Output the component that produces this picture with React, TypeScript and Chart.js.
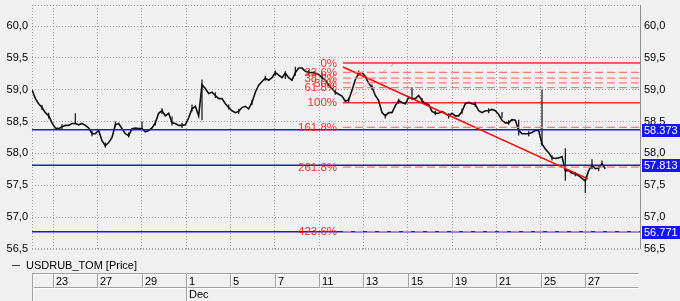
import React, { useEffect, useRef } from "react";
import { Chart, registerables } from "chart.js";
Chart.register(...registerables);

const SERIES_NAME = "USDRUB_TOM [Price]";

// closing prices, one value per bar
const CLOSE: number[] = [
  59.00, 58.86, 58.78, 58.72, 58.64, 58.59, 58.48, 58.40, 58.39, 58.42,
  58.44, 58.44, 58.47, 58.47, 58.45, 58.47, 58.44, 58.40, 58.31, 58.31,
  58.36, 58.20, 58.12, 58.17, 58.25, 58.45, 58.47, 58.39, 58.31, 58.28,
  58.39, 58.40, 58.39, 58.39, 58.34, 58.36, 58.40, 58.48, 58.63, 58.67,
  58.59, 58.63, 58.48, 58.47, 58.44, 58.44, 58.45, 58.56, 58.70, 58.74,
  58.59, 59.08, 59.02, 58.94, 58.96, 58.91, 58.86, 58.86, 58.78, 58.72,
  58.67, 58.64, 58.66, 58.72, 58.74, 58.70, 58.80, 58.96, 59.07, 59.13,
  59.18, 59.15, 59.19, 59.27, 59.23, 59.19, 59.26, 59.19, 59.15, 59.27,
  59.34, 59.34, 59.29, 59.27, 59.27, 59.26, 59.24, 59.19, 59.15, 59.07,
  59.02, 58.96, 58.93, 58.90, 58.82, 58.84, 58.99, 59.16, 59.26, 59.27,
  59.21, 59.10, 59.04, 58.91, 58.83, 58.64, 58.59, 58.64, 58.64, 58.75,
  58.83, 58.80, 58.78, 58.88, 58.86, 58.86, 58.91, 58.83, 58.78, 58.77,
  58.66, 58.63, 58.63, 58.66, 58.63, 58.59, 58.63, 58.59, 58.59, 58.66,
  58.78, 58.80, 58.78, 58.77, 58.67, 58.64, 58.67, 58.67, 58.69, 58.67,
  58.61, 58.52, 58.48, 58.48, 58.53, 58.52, 58.36, 58.31, 58.31, 58.31,
  58.33, 58.36, 58.36, 58.15, 58.07, 58.01, 57.93, 57.92, 57.93, 57.95,
  57.73, 57.73, 57.69, 57.68, 57.65, 57.61, 57.57, 57.73, 57.82, 57.76,
  57.77, 57.84, 57.76,
];

// high/low wicks of individual bars
const WICK_INDEX: number[] = [
  3, 5, 9, 13, 18, 22, 25, 29, 33, 37, 39, 42, 45, 48, 51, 55, 59, 62, 66,
  70, 73, 76, 79, 83, 87, 91, 95, 98, 102, 106, 110, 114, 117, 121, 125,
  129, 133, 137, 141, 143, 146, 149, 153, 156, 160, 163, 166, 168, 170, 171,
];
const WICK_HIGH: number[] = [
  58.76, 58.64, 58.46, 58.63, 58.36, 58.17, 58.50, 58.33, 58.50, 58.52, 58.71, 58.58, 58.48, 58.77, 59.16, 58.96, 58.77, 58.70, 58.84,
  59.22, 59.30, 59.29, 59.36, 59.31, 59.27, 59.00, 58.88, 59.30, 59.08, 58.62, 58.86, 59.04, 58.87, 58.67, 58.63,
  58.70, 58.81, 58.71, 58.65, 58.52, 58.53, 58.35, 59.00, 57.97, 58.08, 57.71, 57.60, 57.91, 57.82, 57.89,
];
const WICK_LOW: number[] = [
  58.68, 58.55, 58.38, 58.46, 58.27, 58.09, 58.41, 58.25, 58.37, 58.44, 58.62, 58.44, 58.40, 58.66, 58.52, 58.87, 58.69, 58.62, 58.76,
  59.14, 59.22, 59.17, 59.22, 59.24, 59.16, 58.92, 58.80, 59.22, 59.00, 58.55, 58.78, 58.84, 58.79, 58.60, 58.55,
  58.62, 58.73, 58.63, 58.56, 58.45, 58.28, 58.27, 58.12, 57.89, 57.57, 57.64, 57.38, 57.75, 57.72, 57.80,
];

const DAY_LABELS: string[] = ["23", "27", "29", "1", "5", "7", "11", "13", "15", "19", "21", "25", "27"];
const FIRST_LABEL_BAR = 6.3;
const BARS_PER_LABEL = 13.3;
const MONTH_LABEL = "Dec";
const MONTH_START_LABEL = 3;

const X_MAX = 182.4;
const Y_MIN = 56.5;
const Y_MAX = 60.33;
const Y_TICKS: number[] = [56.5, 57.0, 57.5, 58.0, 58.5, 59.0, 59.5, 60.0];

const PRICE_LEVELS: number[] = [58.373, 57.813, 56.771];

const FIB_START_BAR = 93.3;
const FIB_HIGH_BAR = 108.9;
const FIB_HIGH = 59.42;
const FIB_LOW = 58.795;
const FIB_RATIOS: number[] = [0, 23.6, 38.2, 50, 61.8, 100, 161.8, 261.8, 423.6];

const TREND_BARS: number[] = [93.3, 166.8];
const TREND_VALUES: number[] = [59.357, 57.6];

const FONT = "'Liberation Sans', Arial, sans-serif";
const BG = "#f0f0f0";
const GRID = "#a0a0a0";
const BLUE_LINE = "#1c1cc8";
const BLUE_BOX = "#1414ff";
const RED = "#ff2a2a";
const PINK = "#ff7878";

const fibLevel = (r: number) => FIB_HIGH - (r / 100) * (FIB_HIGH - FIB_LOW);
const dayTickValues = DAY_LABELS.map((_, j) => FIRST_LABEL_BAR + j * BARS_PER_LABEL);

export default function App() {
  const ref = useRef<HTMLCanvasElement | null>(null);

  useEffect(() => {
    document.body.style.margin = "0";
    document.body.style.background = BG;
    const canvas = ref.current;
    if (!canvas) return;

    const wickData: any[] = [];
    WICK_INDEX.forEach((i, k) => {
      wickData.push({ x: i, y: WICK_LOW[k] }, { x: i, y: WICK_HIGH[k] }, { x: i, y: null });
    });

    const datasets: any[] = [];
    datasets.push({
      type: "line",
      data: CLOSE.map((c, i) => ({ x: i, y: c })),
      borderColor: "#111111",
      borderWidth: 1.6,
      pointRadius: 0,
      order: 2,
    });
    datasets.push({
      type: "line",
      data: wickData,
      borderColor: "#222222",
      borderWidth: 1.3,
      pointRadius: 0,
      spanGaps: false,
      order: 2,
    });
    PRICE_LEVELS.forEach((v) => {
      datasets.push({
        type: "line",
        data: [{ x: 0, y: v }, { x: X_MAX, y: v }],
        borderColor: BLUE_LINE,
        borderWidth: 1.5,
        pointRadius: 0,
        order: 1,
      });
    });
    FIB_RATIOS.forEach((r) => {
      const solid = r === 0 || r === 100;
      datasets.push({
        type: "line",
        data: [{ x: FIB_START_BAR, y: fibLevel(r) }, { x: X_MAX, y: fibLevel(r) }],
        borderColor: solid ? RED : PINK,
        borderWidth: solid ? 1.5 : 1.3,
        borderDash: solid ? [] : [8, 4],
        pointRadius: 0,
        order: solid ? 3 : 0,
      });
    });
    datasets.push({
      type: "line",
      data: [{ x: FIB_START_BAR, y: FIB_LOW }, { x: FIB_HIGH_BAR, y: FIB_HIGH }],
      borderColor: "#ff9a9a",
      borderWidth: 1,
      borderDash: [6, 6],
      pointRadius: 0,
      order: 3,
    });
    datasets.push({
      type: "line",
      data: TREND_BARS.map((b, k) => ({ x: b, y: TREND_VALUES[k] })),
      borderColor: "#ff0000",
      borderWidth: 1.5,
      pointRadius: 0,
      order: 0,
    });

    const yFit = (w: number) => (s: any) => {
      s.width = w;
      s.paddingTop = 0;
      s.paddingBottom = 0;
    };
    const setYTicks = (s: any) => {
      s.ticks = Y_TICKS.map((v) => ({ value: v }));
    };

    const decor = {
      id: "decor",
      beforeDraw(chart: any) {
        const { ctx, width, height } = chart;
        ctx.save();
        ctx.fillStyle = BG;
        ctx.fillRect(0, 0, width, height);
        ctx.restore();
      },
      beforeDatasetsDraw(chart: any) {
        const { ctx, chartArea: a } = chart;
        ctx.save();
        ctx.strokeStyle = GRID;
        ctx.lineWidth = 1;
        ctx.setLineDash([1, 2]);
        ctx.beginPath();
        ctx.moveTo(a.left, a.top + 0.5);
        ctx.lineTo(a.right, a.top + 0.5);
        ctx.moveTo(a.left + 0.5, a.top);
        ctx.lineTo(a.left + 0.5, a.bottom);
        ctx.moveTo(a.left, a.bottom - 0.5);
        ctx.lineTo(a.right, a.bottom - 0.5);
        ctx.stroke();
        ctx.setLineDash([]);
        ctx.strokeStyle = "#909090";
        ctx.beginPath();
        ctx.moveTo(a.right + 0.5, a.top);
        ctx.lineTo(a.right + 0.5, a.bottom);
        ctx.stroke();
        ctx.restore();
      },
      afterDatasetsDraw(chart: any) {
        const { ctx } = chart;
        const xs = chart.scales.x;
        const ys = chart.scales.y;
        ctx.save();
        ctx.font = `11.5px ${FONT}`;
        ctx.fillStyle = RED;
        ctx.textAlign = "right";
        ctx.textBaseline = "middle";
        const xr = xs.getPixelForValue(FIB_START_BAR) - 6;
        FIB_RATIOS.forEach((r) => {
          ctx.fillText(`${r}%`, xr, ys.getPixelForValue(fibLevel(r)) + 0.5);
        });
        ctx.restore();
      },
      afterDraw(chart: any) {
        const { ctx, chartArea: a } = chart;
        const xs = chart.scales.x;
        const ys = chart.scales.y;
        ctx.save();
        ctx.font = `11px ${FONT}`;
        ctx.textBaseline = "middle";
        ctx.textAlign = "left";
        PRICE_LEVELS.forEach((v) => {
          const y = ys.getPixelForValue(v);
          ctx.fillStyle = BLUE_BOX;
          ctx.fillRect(a.right + 2, Math.round(y) - 6, 40, 13);
          ctx.fillStyle = "#ffffff";
          ctx.fillText(v.toFixed(3), a.right + 4, Math.round(y) + 0.5);
        });

        // legend
        const ly = 265.5;
        ctx.strokeStyle = "#404040";
        ctx.lineWidth = 1;
        ctx.beginPath();
        ctx.moveTo(12, ly);
        ctx.lineTo(20, ly);
        ctx.stroke();
        ctx.fillStyle = "#000";
        ctx.fillText(SERIES_NAME, 26, ly);

        // date table
        const top = 273.5;
        const mid = 287.5;
        const bottom = 301;
        const right = a.right - 1.5;
        const hline = (y: number, c: string) => {
          ctx.strokeStyle = c;
          ctx.beginPath();
          ctx.moveTo(a.left, y);
          ctx.lineTo(right, y);
          ctx.stroke();
        };
        const vline = (x: number, y1: number, y2: number) => {
          ctx.strokeStyle = GRID;
          ctx.beginPath();
          ctx.moveTo(x, y1);
          ctx.lineTo(x, y2);
          ctx.stroke();
          ctx.strokeStyle = "#ffffff";
          ctx.beginPath();
          ctx.moveTo(x + 1, y1 + 1);
          ctx.lineTo(x + 1, y2);
          ctx.stroke();
        };
        hline(top, GRID);
        hline(top + 1, "#ffffff");
        hline(mid, GRID);
        hline(mid + 1, "#ffffff");
        vline(a.left + 0.5, top, bottom);
        dayTickValues.forEach((v, j) => {
          const px = Math.round(xs.getPixelForValue(v)) + 0.5;
          vline(px, top, mid);
          ctx.fillStyle = "#000";
          ctx.fillText(DAY_LABELS[j], px + 2.5, (top + mid) / 2 + 1);
          if (j === MONTH_START_LABEL) {
            vline(px, mid, bottom);
            ctx.fillStyle = "#000";
            ctx.fillText(MONTH_LABEL, px + 2.5, (mid + bottom) / 2 + 1);
          }
        });
        ctx.restore();
      },
    };

    const chart = new Chart(canvas, {
      type: "line",
      data: { datasets },
      plugins: [decor],
      options: {
        responsive: false,
        animation: false,
        events: [],
        layout: { padding: { left: 0, right: 0, top: 5, bottom: 52 } },
        plugins: { legend: { display: false }, tooltip: { enabled: false } },
        elements: { line: { tension: 0 } },
        scales: {
          x: {
            type: "linear",
            min: 0,
            max: X_MAX,
            afterBuildTicks: (s: any) => {
              s.ticks = dayTickValues.map((v) => ({ value: v }));
            },
            afterFit: (s: any) => {
              s.height = 0;
              s.paddingLeft = 0;
              s.paddingRight = 0;
            },
            ticks: { display: false },
            grid: { color: GRID, drawTicks: false, lineWidth: 1 },
            border: { display: false, dash: [1, 2] },
          },
          y: {
            type: "linear",
            position: "left",
            min: Y_MIN,
            max: Y_MAX,
            afterBuildTicks: setYTicks,
            afterFit: yFit(32),
            ticks: {
              color: "#000",
              padding: 4,
              font: { family: FONT, size: 11 },
              callback: (v: any) => Number(v).toFixed(1).replace(".", ","),
            },
            grid: { color: GRID, drawTicks: false, lineWidth: 1 },
            border: { display: false, dash: [1, 2] },
          },
          y2: {
            type: "linear",
            position: "right",
            min: Y_MIN,
            max: Y_MAX,
            afterBuildTicks: setYTicks,
            afterFit: yFit(40),
            ticks: {
              color: "#000",
              padding: 4,
              font: { family: FONT, size: 11 },
              callback: (v: any) => Number(v).toFixed(1).replace(".", ","),
            },
            grid: { display: false, drawTicks: false },
            border: { display: false },
          },
        },
      },
    } as any);

    return () => chart.destroy();
  }, []);

  return <canvas ref={ref} width={680} height={301} style={{ display: "block" }} />;
}
